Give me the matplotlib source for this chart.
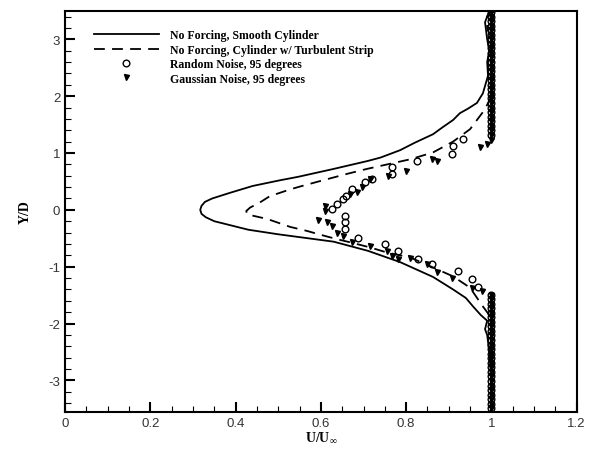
import matplotlib
matplotlib.use('Agg')
import matplotlib.pyplot as plt
from matplotlib.ticker import MultipleLocator

plt.rcParams['mathtext.fontset'] = 'custom'
plt.rcParams['mathtext.rm'] = 'Liberation Serif:bold'
plt.rcParams['mathtext.bf'] = 'Liberation Serif:bold'
plt.rcParams['axes.unicode_minus'] = False

# ---- velocity profiles, U/Uinf vs Y/D ----
# no forcing, smooth cylinder
smooth_u = [1.0, 0.99, 0.985, 0.99, 0.995, 0.99, 0.992, 0.98, 0.966, 0.945, 0.926,
            0.91, 0.885, 0.863, 0.82, 0.786, 0.74, 0.71, 0.63, 0.546, 0.504, 0.44,
            0.387, 0.345, 0.328, 0.32, 0.317, 0.32, 0.33, 0.35, 0.43, 0.5, 0.55,
            0.63, 0.71, 0.786, 0.863, 0.91, 0.94, 0.957, 0.975, 0.99, 0.985, 0.99,
            0.995, 1.0, 1.0]
smooth_y = [3.55, 3.4, 3.3, 3.0, 2.8, 2.6, 2.36, 2.05, 1.88, 1.78, 1.7,
            1.58, 1.45, 1.33, 1.18, 1.05, 0.92, 0.86, 0.72, 0.58, 0.52, 0.42,
            0.3, 0.2, 0.14, 0.07, 0.0, -0.07, -0.13, -0.2, -0.35, -0.43, -0.48,
            -0.56, -0.72, -0.92, -1.18, -1.4, -1.55, -1.7, -1.85, -1.95, -2.1, -2.2,
            -2.5, -3.0, -3.55]

# no forcing, cylinder with turbulent strip
strip_u = [1.0, 0.99, 0.99, 1.0, 1.0, 0.985, 0.95, 0.91, 0.863, 0.81, 0.762,
           0.708, 0.66, 0.6, 0.551, 0.528, 0.48, 0.457, 0.434, 0.425, 0.427,
           0.474, 0.528, 0.567, 0.6, 0.64, 0.668, 0.715, 0.755, 0.81, 0.856,
           0.91, 0.95, 0.98, 1.0, 1.0]
strip_y = [3.55, 3.4, 3.2, 3.0, 2.0, 1.77, 1.42, 1.2, 1.01, 0.89, 0.81,
           0.72, 0.63, 0.51, 0.41, 0.36, 0.24, 0.13, 0.04, -0.02, -0.08,
           -0.16, -0.3, -0.37, -0.44, -0.52, -0.57, -0.66, -0.75, -0.84, -0.99,
           -1.17, -1.37, -1.7, -1.9, -3.55]

# free-stream grid points outside the wake
free_y_top = [1.32, 1.40, 1.48, 1.56, 1.64, 1.72, 1.80, 1.88, 1.96, 2.04, 2.12,
              2.20, 2.28, 2.36, 2.44, 2.52, 2.60, 2.68, 2.76, 2.84, 2.92, 3.00,
              3.08, 3.16, 3.24, 3.32, 3.40, 3.48]
free_y_bot = [-1.49, -1.57, -1.65, -1.73, -1.81, -1.89, -1.97, -2.05, -2.13,
              -2.21, -2.29, -2.37, -2.45, -2.53, -2.61, -2.69, -2.77, -2.85,
              -2.93, -3.01, -3.09, -3.17, -3.25, -3.33, -3.41, -3.49]

# random noise, 95 degrees (wake points)
rand_u = [0.934, 0.91, 0.907, 0.825, 0.767, 0.767, 0.72, 0.703, 0.673, 0.66,
          0.652, 0.638, 0.626, 0.657, 0.657, 0.657, 0.688, 0.75, 0.78, 0.828,
          0.86, 0.922, 0.954, 0.969]
rand_y = [1.25, 1.12, 0.99, 0.86, 0.75, 0.63, 0.54, 0.49, 0.37, 0.25,
          0.19, 0.1, 0.01, -0.11, -0.22, -0.34, -0.49, -0.6, -0.72, -0.86,
          -0.96, -1.08, -1.22, -1.35]

# gaussian noise, 95 degrees (wake points)
gauss_u = [1.0, 0.99, 0.973, 0.872, 0.86, 0.8, 0.757, 0.715, 0.697, 0.684,
           0.668, 0.61, 0.61, 0.593, 0.614, 0.626, 0.638, 0.652, 0.672, 0.715,
           0.755, 0.767, 0.782, 0.81, 0.848, 0.872, 0.907, 0.954, 0.977]
gauss_y = [1.22, 1.16, 1.1, 0.86, 0.9, 0.68, 0.59, 0.54, 0.4, 0.31,
           0.28, 0.07, -0.02, -0.18, -0.22, -0.29, -0.4, -0.46, -0.57, -0.64,
           -0.73, -0.81, -0.87, -0.84, -0.96, -1.1, -1.19, -1.37, -1.43]

free_y = free_y_top + free_y_bot
free_u = [1.0] * len(free_y)

fig = plt.figure(figsize=(5.97, 4.56), dpi=100)
ax = fig.add_axes([0.109, 0.095, 0.857, 0.879])

ax.plot(smooth_u, smooth_y, color='black', lw=1.3, label='No Forcing, Smooth Cylinder')
ax.plot(strip_u, strip_y, color='black', lw=1.3, dashes=(6, 4),
        label='No Forcing, Cylinder w/ Turbulent Strip')
ax.plot(rand_u + free_u, rand_y + free_y, ls='none', marker='o', ms=4.8,
        mfc='none', mec='black', mew=1.0, label='Random Noise, 95 degrees')
ax.plot(gauss_u + free_u, gauss_y + free_y, ls='none', marker='v', ms=3.6,
        color='black', label='Gaussian Noise, 95 degrees')

ax.set_xlim(0, 1.2)
ax.set_ylim(-3.55, 3.5)
ax.set_xticks([0, 0.2, 0.4, 0.6, 0.8, 1.0, 1.2])
ax.set_xticklabels(['0', '0.2', '0.4', '0.6', '0.8', '1', '1.2'])
ax.xaxis.set_minor_locator(MultipleLocator(0.05))
ax.yaxis.set_major_locator(MultipleLocator(1))
ax.yaxis.set_minor_locator(MultipleLocator(0.2))
ax.tick_params(which='major', direction='in', length=7, width=1.5)
ax.tick_params(which='minor', direction='in', length=4, width=0.8)
for lab in ax.get_xticklabels() + ax.get_yticklabels():
    lab.set_family('Liberation Sans')
    lab.set_fontsize(9.5)
    lab.set_color('#333333')
for s in ax.spines.values():
    s.set_linewidth(1.5)

ax.set_xlabel(r'U/U$_{\infty}$', family='Liberation Serif', weight='bold',
              fontsize=10, labelpad=1)
ax.set_ylabel('Y/D', family='Liberation Serif', weight='bold', fontsize=10,
              labelpad=12)

ax.legend(loc='upper left', bbox_to_anchor=(0.035, 0.98), frameon=False,
          handlelength=5.5, handletextpad=1.0, labelspacing=0.2,
          prop={'family': 'Liberation Serif', 'weight': 'bold', 'size': 8.5})

fig.savefig('out.png', dpi=100)
